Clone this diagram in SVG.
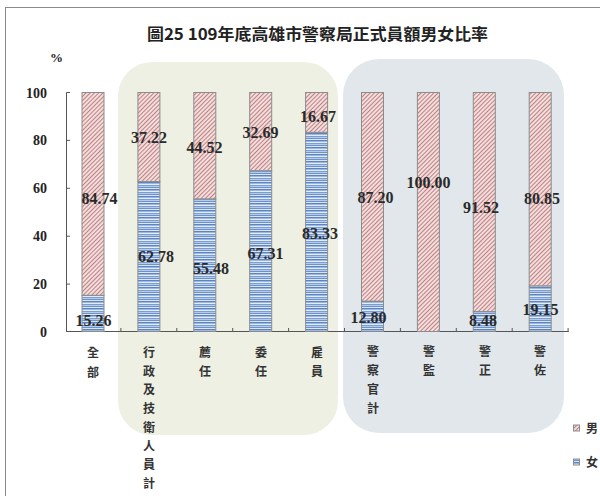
<svg xmlns="http://www.w3.org/2000/svg" width="600" height="496" viewBox="0 0 600 496">
<defs>
<pattern id="male" patternUnits="userSpaceOnUse" width="3" height="3" patternTransform="rotate(45)">
<rect width="3" height="3" fill="#f1dede"/>
<line x1="0.5" y1="0" x2="0.5" y2="3" stroke="#c27f7f" stroke-width="1"/>
</pattern>
<pattern id="female" patternUnits="userSpaceOnUse" width="6" height="7">
<rect width="6" height="7" fill="#c3d5ee"/>
<rect y="0" width="6" height="1" fill="#5d84c2"/>
<rect y="1" width="6" height="1" fill="#9db8e0"/>
<rect y="2" width="6" height="1" fill="#e3ecf8"/>
<rect y="3" width="6" height="1" fill="#7a9ed2"/>
<rect y="4" width="6" height="1" fill="#b6cbea"/>
<rect y="5" width="6" height="1" fill="#6c92ca"/>
<rect y="6" width="6" height="1" fill="#dbe6f5"/>
</pattern>
<style>
.m{fill:url(#male);stroke:#8c8c8c;stroke-width:1}
.f{fill:url(#female);stroke:#8c8c8c;stroke-width:1}
.v{font-family:"Liberation Serif",serif;font-size:16px;font-weight:bold;fill:#2a2a2a;text-anchor:middle}
.t{font-family:"Liberation Serif",serif;font-size:14px;font-weight:bold;fill:#222;text-anchor:end}
.c{font-family:"Noto Sans CJK TC","Noto Sans CJK SC",sans-serif;font-size:12px;font-weight:bold;fill:#333;text-anchor:middle}
.ax{stroke:#555;stroke-width:1;fill:none}
</style>
</defs>
<rect x="0" y="0" width="600" height="496" fill="#ffffff"/>
<rect x="5.5" y="7.5" width="610" height="500" fill="none" stroke="#8a8a8a" stroke-width="1"/>
<g id="bg-admin"><rect x="118" y="62" width="220" height="373" rx="34" fill="#eef0e4"/></g>
<g id="bg-police"><rect x="343" y="59" width="221" height="374" rx="36" fill="#e1e7ea"/></g>
<g id="title"><text x="147" y="40" textLength="341" lengthAdjust="spacingAndGlyphs" style="font-family:'Noto Sans CJK TC','Noto Sans CJK SC',sans-serif;font-size:16px;font-weight:bold;fill:#222">圖25 109年底高雄市警察局正式員額男女比率</text></g>
<g id="yaxis">
<text x="50" y="62" style="font-family:'Liberation Serif',serif;font-size:13px;font-weight:bold;fill:#222">%</text>
<text class="t" x="47" y="97.5">100</text>
<text class="t" x="47" y="145.4">80</text>
<text class="t" x="47" y="193.3">60</text>
<text class="t" x="47" y="241.2">40</text>
<text class="t" x="47" y="289.1">20</text>
<text class="t" x="47" y="337">0</text>
</g>
<g id="connectors">
<path class="ax" d="M66.5 92.5V332M66.5 92.5H70M66.5 140.4H70M66.5 188.3H70M66.5 236.2H70M66.5 284.1H70"/>
<path class="ax" d="M66 331.5H568.5M120.9 328V332M176.8 328V332M232.7 328V332M288.6 328V332M344.5 328V332M400.4 328V332M456.3 328V332M512.2 328V332M568.1 328V332"/>
</g>
<g id="bar-all"><rect class="m" x="82" y="92.5" width="22" height="202.9"/><rect class="f" x="82" y="295.4" width="22" height="36.1"/><text class="v" x="99.5" y="203.5">84.74</text><text class="v" x="93.5" y="325.5">15.26</text></g>
<g id="bar-admin"><rect class="m" x="137.9" y="92.5" width="22" height="89.1"/><rect class="f" x="137.9" y="181.6" width="22" height="149.9"/><text class="v" x="149" y="142.5">37.22</text><text class="v" x="156" y="261.5">62.78</text></g>
<g id="bar-jian"><rect class="m" x="193.8" y="92.5" width="22" height="106.6"/><rect class="f" x="193.8" y="199.1" width="22" height="132.4"/><text class="v" x="204.5" y="152.5">44.52</text><text class="v" x="211" y="273.5">55.48</text></g>
<g id="bar-wei"><rect class="m" x="249.7" y="92.5" width="22" height="78.3"/><rect class="f" x="249.7" y="170.8" width="22" height="160.7"/><text class="v" x="260.5" y="137.5">32.69</text><text class="v" x="265.5" y="258.5">67.31</text></g>
<g id="bar-gu"><rect class="m" x="305.6" y="92.5" width="22" height="39.9"/><rect class="f" x="305.6" y="132.4" width="22" height="199.1"/><text class="v" x="318" y="121.5">16.67</text><text class="v" x="320" y="238.5">83.33</text></g>
<g id="bar-police"><rect class="m" x="361.5" y="92.5" width="22" height="208.8"/><rect class="f" x="361.5" y="301.3" width="22" height="30.2"/><text class="v" x="375.5" y="202.5">87.20</text><text class="v" x="368.5" y="322.5">12.80</text></g>
<g id="bar-jianjian"><rect class="m" x="417.4" y="92.5" width="22" height="239"/><text class="v" x="428.5" y="187.5">100.00</text></g>
<g id="bar-zheng"><rect class="m" x="473.3" y="92.5" width="22" height="219.2"/><rect class="f" x="473.3" y="311.7" width="22" height="19.8"/><text class="v" x="481" y="212.5">91.52</text><text class="v" x="483" y="325.5">8.48</text></g>
<g id="bar-zuo"><rect class="m" x="529.2" y="92.5" width="22" height="193.6"/><rect class="f" x="529.2" y="286.1" width="22" height="45.4"/><text class="v" x="542" y="203.5">80.85</text><text class="v" x="540.5" y="314.5">19.15</text></g>
<g id="cat-labels">
<text class="c" x="93" y="357">全</text><text class="c" x="93" y="376.5">部</text>
<text class="c" x="149" y="357">行</text><text class="c" x="149" y="375.7">政</text><text class="c" x="149" y="394.4">及</text><text class="c" x="149" y="413.1">技</text><text class="c" x="149" y="431.8">衛</text><text class="c" x="149" y="450.5">人</text><text class="c" x="149" y="469.2">員</text><text class="c" x="149" y="487.9">計</text>
<text class="c" x="205" y="357">薦</text><text class="c" x="205" y="376">任</text>
<text class="c" x="261" y="357">委</text><text class="c" x="261" y="376">任</text>
<text class="c" x="317" y="357">雇</text><text class="c" x="317" y="376">員</text>
<text class="c" x="373" y="356">警</text><text class="c" x="373" y="375">察</text><text class="c" x="373" y="394">官</text><text class="c" x="373" y="413">計</text>
<text class="c" x="429" y="356">警</text><text class="c" x="429" y="375">監</text>
<text class="c" x="485" y="356">警</text><text class="c" x="485" y="375">正</text>
<text class="c" x="540" y="356">警</text><text class="c" x="540" y="375">佐</text>
</g>
<g id="legend">
<rect class="m" x="573.5" y="425" width="6" height="6"/><text class="c" x="592" y="433">男</text>
<rect class="f" x="573.5" y="459" width="6" height="6"/><text class="c" x="592" y="467">女</text>
</g>
</svg>
